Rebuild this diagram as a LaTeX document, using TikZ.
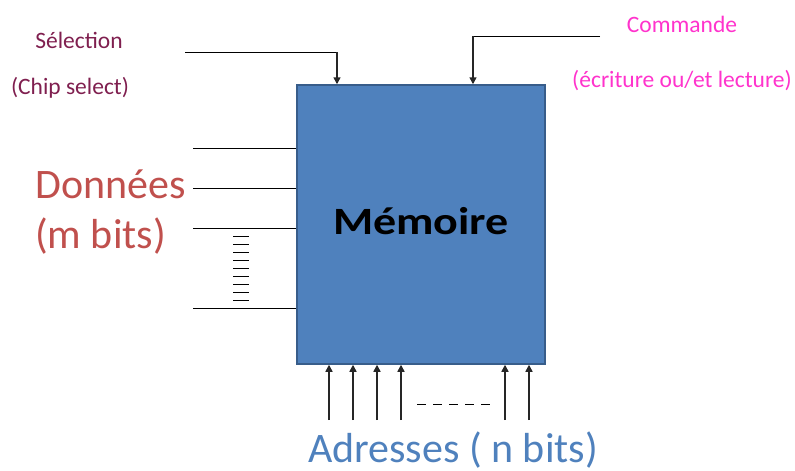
\documentclass[tikz,border=0pt]{standalone}
\usepackage{fontspec}
\setmainfont{Carlito}
\usetikzlibrary{arrows.meta}
\definecolor{boxfill}{HTML}{4F81BD}
\definecolor{boxline}{HTML}{385D8A}
\definecolor{selcol}{HTML}{7F1F4F}
\definecolor{cmdcol}{HTML}{FF33CC}
\definecolor{datacol}{HTML}{C0504D}
\definecolor{adrcol}{HTML}{4F81BD}
\definecolor{arrcol}{HTML}{262626}
\tikzset{
  lbl/.style={inner sep=0pt, anchor=base},
  small/.style={lbl, font=\fontsize{23.5}{28}\selectfont},
  big/.style={lbl, font=\fontsize{42}{50}\selectfont},
  wire/.style={line width=1pt, black},
  sig/.style={line width=1.5pt, arrcol, -{Triangle[length=7pt,width=7pt]}},
  tick/.style={line width=0.9pt, black},
}
\begin{document}
\begin{tikzpicture}[x=1pt,y=-1pt]
\useasboundingbox (0,0) rectangle (795,471);
% memory box
\node[draw=boxline, line width=1.5pt, fill=boxfill, minimum width=248pt, minimum height=279pt, inner sep=0pt] (mem) at (421,224.5) {};
\node[lbl, font=\fontsize{46}{50}\selectfont\bfseries] (memt) at (421,234) {\scalebox{1}[0.84]{Mémoire}};
% labels
\node[small, text=selcol] (sel) at (79,48) {Sélection};
\node[small, text=selcol] (chip) at (70,94) {(Chip select)};
\node[small, text=cmdcol] (cmd) at (682,32) {Commande};
\node[small, text=cmdcol] (ecr) at (682,87) {(écriture ou/et lecture)};
\node[big, text=datacol, anchor=base west] (don) at (35,198) {Données};
\node[big, text=datacol, anchor=base west] (mbits) at (35,248) {(m bits)};
\node[big, text=adrcol] (adr) at (453,462) {Adresses ( n bits)};
% selection and command
\coordinate (s0) at (185,52);
\coordinate (s1) at (337,52);
\coordinate (c0) at (600,36);
\coordinate (c1) at (473,36);
\draw[wire] (s0) -- (s1);
\draw[sig] (s1) -- (s1 |- mem.north);
\draw[wire] (c0) -- (c1);
\draw[sig] (c1) -- (c1 |- mem.north);
% data lines
\foreach \y/\n in {148/d1,188/d2,228/d3,308/d4}{
  \coordinate (\n) at (193,\y);
  \draw[wire] (\n) -- (\n -| mem.west);
}
\foreach \i in {0,...,8}{
  \coordinate (ta\i) at (233,236+8*\i);
  \coordinate (tb\i) at (249,236+8*\i);
  \draw[tick] (ta\i) -- (tb\i);
}
% address arrows
\foreach \x/\n in {329/a1,353/a2,377/a3,401/a4,505/a5,529/a6}{
  \coordinate (\n) at (\x,420);
  \draw[sig] (\n) -- (\n |- mem.south);
}
\coordinate (dd0) at (417,404.5);
\coordinate (dd1) at (491,404.5);
\draw[line width=1pt, black, dash pattern=on 9pt off 7pt] (dd0) -- (dd1);
\end{tikzpicture}
\end{document}
